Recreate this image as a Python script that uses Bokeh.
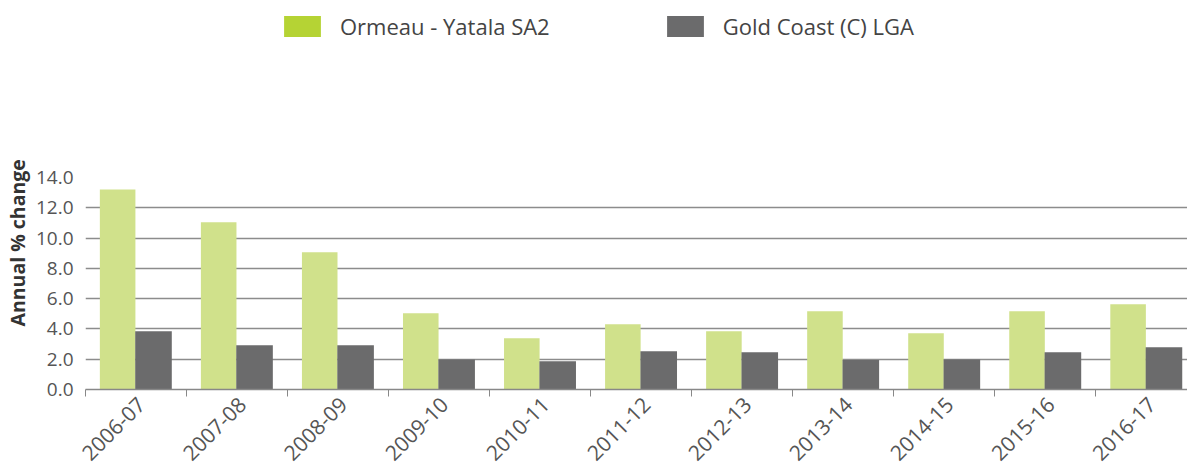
import numpy as np
from math import pi
from bokeh.plotting import figure
from bokeh.layouts import column
from bokeh.models import (ColumnDataSource, Range1d, FixedTicker, Legend, LegendItem,
                          Title, NumeralTickFormatter)
from bokeh.embed import file_html
from bokeh.resources import INLINE

categories = ["2006-07", "2007-08", "2008-09", "2009-10", "2010-11", "2011-12",
              "2012-13", "2013-14", "2014-15", "2015-16", "2016-17"]
ormeau = [13.2, 11.04, 9.06, 5.04, 3.39, 4.31, 3.85, 5.17, 3.72, 5.17, 5.63]
gold_coast = [3.85, 2.92, 2.92, 1.98, 1.87, 2.53, 2.46, 1.94, 1.98, 2.46, 2.79]
series_names = ["Ormeau - Yatala SA2", "Gold Coast (C) LGA"]
y_ticks = [0, 2, 4, 6, 8, 10, 12, 14]

BAR_GREEN = "#d0e18b"
LEG_GREEN = "#b5d334"
GREY = "#6b6b6c"
FONT = "Open Sans"

LEG_H = 60

# ---------- legend strip ----------
lf = figure(width=1187, height=LEG_H, output_backend="svg", toolbar_location=None,
            x_range=Range1d(0, 1), y_range=Range1d(0, 1),
            min_border=0, x_axis_location=None, y_axis_location=None)
lf.outline_line_color = None
lf.grid.visible = False
proxy = ColumnDataSource(dict(x=[-1], top=[0]))
r1 = lf.vbar(x="x", top="top", width=0.1, source=proxy, fill_color=LEG_GREEN, line_color=None)
r2 = lf.vbar(x="x", top="top", width=0.1, source=proxy, fill_color=GREY, line_color=None)
legend = Legend(items=[LegendItem(label=series_names[0], renderers=[r1]),
                       LegendItem(label=series_names[1], renderers=[r2])],
                orientation="horizontal", location=(194, LEG_H - 41),
                glyph_width=46, glyph_height=26, label_standoff=15, spacing=112,
                padding=0, margin=0, border_line_color=None, background_fill_alpha=0,
                label_text_font=FONT, label_text_font_size="22px",
                label_text_color="#444444")
lf.add_layout(legend, "center")

# ---------- main chart ----------
idx = np.arange(len(categories))
src = ColumnDataSource(dict(
    x1=idx + 0.318, x2=idx + 0.673, a=ormeau, b=gold_coast, cat=categories))

p = figure(width=1187, height=470 - LEG_H, output_backend="svg", toolbar_location=None,
           x_range=Range1d(0, 10.906), y_range=Range1d(0, 14),
           min_border_left=85, min_border_right=0, min_border_top=177 - LEG_H,
           min_border_bottom=81)
p.outline_line_color = None

p.vbar(x="x1", top="a", width=0.352, source=src, fill_color=BAR_GREEN, line_color=None)
p.vbar(x="x2", top="b", width=0.362, source=src, fill_color=GREY, line_color=None)

# x axis
label_pos = idx + 0.55
xa = p.xaxis[0]
xa.ticker = FixedTicker(ticks=list(label_pos), minor_ticks=list(range(len(categories) + 1)))
xa.major_label_overrides = {float(v): c for v, c in zip(label_pos, categories)}
xa.major_label_orientation = pi / 4
xa.major_tick_out = 0
xa.major_tick_in = 0
xa.minor_tick_out = 7
xa.minor_tick_in = 0
xa.minor_tick_line_color = "#888888"
xa.axis_line_color = "#888888"
xa.axis_line_width = 1.5
xa.major_label_standoff = 4
xa.major_label_text_font = FONT
xa.major_label_text_font_size = "21px"
xa.major_label_text_color = "#555555"

# y axis
ya = p.yaxis[0]
ya.ticker = FixedTicker(ticks=y_ticks)
ya.formatter = NumeralTickFormatter(format="0.0")
ya.axis_line_color = None
ya.major_tick_line_color = None
ya.major_tick_out = 0
ya.major_tick_in = 0
ya.minor_tick_line_color = None
ya.major_label_standoff = 12
ya.major_label_text_font = FONT
ya.major_label_text_font_size = "19px"
ya.major_label_text_color = "#555555"

p.xgrid.grid_line_color = None
p.ygrid.ticker = FixedTicker(ticks=y_ticks[1:])
p.ygrid.grid_line_color = "#8c8c8c"
p.ygrid.grid_line_width = 1.6

ytitle = Title(text="Annual % change", align="left", offset=63, standoff=3,
               text_font=FONT, text_font_style="bold", text_font_size="19.5px",
               text_color="#333333")
p.add_layout(ytitle, "left")

layout = column(lf, p, spacing=0)
open("out.html", "w").write(file_html(layout, INLINE))
